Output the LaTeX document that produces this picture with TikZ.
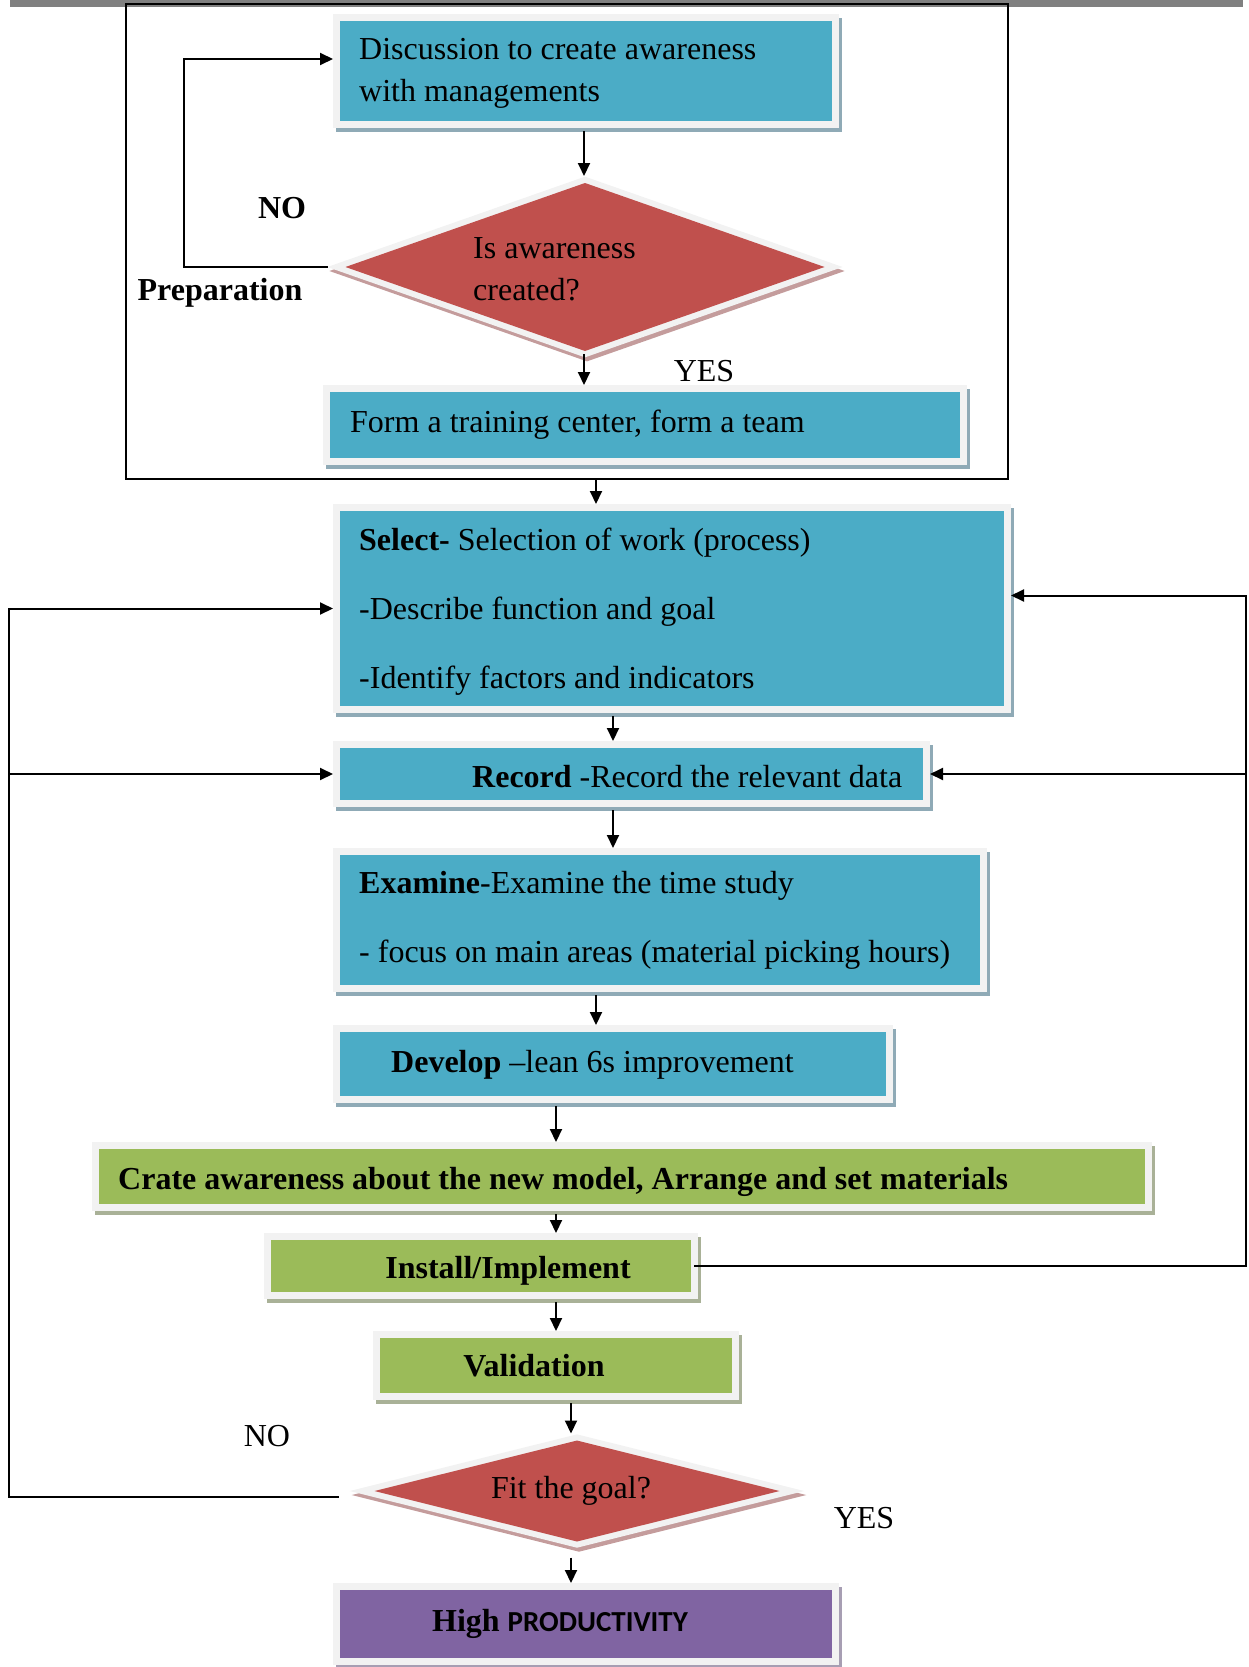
\documentclass[tikz,border=0pt]{standalone}
\usepackage{fontspec}
\setmainfont{Liberation Serif}
\newfontfamily\calib{Carlito}
\usetikzlibrary{arrows.meta,shapes.geometric,calc}

\definecolor{cblue}{HTML}{4BACC6}
\definecolor{cred}{HTML}{C0504D}
\definecolor{cgreen}{HTML}{9BBB59}
\definecolor{cpurple}{HTML}{8064A2}
\definecolor{rim}{HTML}{F2F2F2}
\definecolor{shblue}{HTML}{8FAAB6}
\definecolor{shgreen}{HTML}{A9B197}
\definecolor{shpurple}{HTML}{A79EB3}
\definecolor{shred}{HTML}{C49C9C}
\definecolor{topbar}{HTML}{808080}

\tikzset{
  boxbase/.style={rectangle, inner sep=0pt, outer sep=0pt, anchor=north west,
    preaction={draw=#1, line width=14pt, transform canvas={shift={(3pt,-4pt)}}},
    preaction={draw=rim, line width=14pt}},
  bluebox/.style={boxbase=shblue, fill=cblue},
  greenbox/.style={boxbase=shgreen, fill=cgreen},
  purplebox/.style={boxbase=shpurple, fill=cpurple},
  decision/.style={diamond, inner sep=0pt, outer sep=0pt, fill=cred,
    preaction={draw=shred, line width=12pt, line join=miter, transform canvas={shift={(2pt,-4pt)}}},
    preaction={draw=rim, line width=12pt, line join=miter}},
  txt/.style={inner sep=0pt, anchor=west, text height=22pt, text depth=1pt},
  ctxt/.style={inner sep=0pt, anchor=center, text height=22pt, text depth=1pt},
  conn/.style={line width=2pt},
  arr/.style={conn, -{Triangle[length=13pt,width=12pt]}},
}

\begin{document}
\begin{tikzpicture}[x=1pt,y=-1pt,font=\fontsize{32}{38}\selectfont]
\useasboundingbox (0,0) rectangle (1248,1667);

% rule across the top of the page
\fill[topbar] (10,0) rectangle (1243,7);

% preparation frame
\node[draw, line width=1.6pt, inner sep=0pt, outer sep=0pt, anchor=north west,
      minimum width=882pt, minimum height=475pt] (prep) at (126,4) {};

% boxes
\node[bluebox, minimum width=492pt, minimum height=100pt] (b1) at (340,21) {};
\node[decision, minimum width=479pt, minimum height=168pt] (d1) at (585,267) {};
\node[bluebox, minimum width=630pt, minimum height=66pt] (b3) at (330,392) {};
\node[bluebox, minimum width=664pt, minimum height=195pt] (b4) at (340,511) {};
\node[bluebox, minimum width=583pt, minimum height=52pt] (b5) at (340,748) {};
\node[bluebox, minimum width=640pt, minimum height=130pt] (b6) at (340,855) {};
\node[bluebox, minimum width=546pt, minimum height=64pt] (b7) at (340,1032) {};
\node[greenbox, minimum width=1046pt, minimum height=55pt] (b8) at (99,1149) {};
\node[greenbox, minimum width=420pt, minimum height=52pt] (b9) at (271,1240) {};
\node[greenbox, minimum width=352pt, minimum height=55pt] (b10) at (380,1338) {};
\node[decision, minimum width=405pt, minimum height=101pt] (d2) at (577,1491) {};
\node[purplebox, minimum width=492pt, minimum height=68pt] (b11) at (340,1590) {};

% texts
\node[txt] (t1a) at (359,49) {Discussion to create awareness};
\node[txt] (t1b) at (359,91) {with managements};
\node[txt] (t2a) at (473,248) {Is awareness};
\node[txt] (t2b) at (473,290) {created?};
\node[ctxt] (no1) at (282,208) {\bfseries NO};
\node[ctxt] (prepl) at (220,290) {\bfseries Preparation};
\node[ctxt] (yes1) at (704,371) {YES};
\node[txt] (t3) at (350,422) {Form a training center, form a team};
\node[txt] (t4a) at (359,540) {\textbf{Select-} Selection of work (process)};
\node[txt] (t4b) at (359,609) {-Describe function and goal};
\node[txt] (t4c) at (359,678) {-Identify factors and indicators};
\node[txt] (t5) at (472,777) {\textbf{Record} -Record the relevant data};
\node[txt] (t6a) at (359,883) {\textbf{Examine}-Examine the time study};
\node[txt] (t6b) at (359,952) {- focus on main areas (material picking hours)};
\node[txt] (t7) at (391,1062) {\textbf{Develop} --lean 6s improvement};
\node[txt] (t8) at (118,1179) {\bfseries Crate awareness about the new model, Arrange and set materials};
\node[ctxt] (t9) at (508,1268) {\bfseries Install/Implement};
\node[ctxt] (t10) at (534,1366) {\bfseries Validation};
\node[ctxt] (t11) at (571,1488) {Fit the goal?};
\node[ctxt] (no2) at (267,1436) {NO};
\node[ctxt] (yes2) at (864,1518) {YES};
\node[ctxt] (t12) at (560,1621) {\textbf{High} {\calib\bfseries\fontsize{29}{34}\selectfont PRODUCTIVITY}};

% columns used by the connectors
\coordinate (xa) at (584,0);
\coordinate (xb) at (596,0);
\coordinate (xc) at (613,0);
\coordinate (xd) at (556,0);
\coordinate (xe) at (571,0);
\coordinate (xl) at (184,0);
\coordinate (xL) at (8.5,0);
\coordinate (xR) at (1246,0);

% main flow
\draw[arr, shorten <=10pt, shorten >=7pt] (b1.south -| xa) -- (d1.north -| xa);
\draw[arr, shorten <=3pt, shorten >=7pt] (d1.south -| xa) -- (b3.north -| xa);
\draw[arr, shorten >=7pt] (prep.south -| xb) -- (b4.north -| xb);
\draw[arr, shorten <=10pt, shorten >=7pt] (b4.south -| xc) -- (b5.north -| xc);
\draw[arr, shorten <=10pt, shorten >=7pt] (b5.south -| xc) -- (b6.north -| xc);
\draw[arr, shorten <=10pt, shorten >=7pt] (b6.south -| xb) -- (b7.north -| xb);
\draw[arr, shorten <=10pt, shorten >=7pt] (b7.south -| xd) -- (b8.north -| xd);
\draw[arr, shorten <=10pt, shorten >=7pt] (b8.south -| xd) -- (b9.north -| xd);
\draw[arr, shorten <=10pt, shorten >=7pt] (b9.south -| xd) -- (b10.north -| xd);
\draw[arr, shorten <=10pt, shorten >=7pt] (b10.south -| xe) -- (d2.north -| xe);
\draw[arr, shorten <=16pt, shorten >=7pt] (d2.south -| xe) -- (b11.north -| xe);

% NO loop of the first decision
\draw[arr, shorten <=18pt, shorten >=7pt]
  (d1.west) -- (d1.west -| xl) -- ([yshift=12pt]b1.west -| xl) -- ([yshift=12pt]b1.west);

% NO loop of the second decision
\draw[arr, shorten <=36pt, shorten >=7pt]
  ([yshift=-6pt]d2.west) -- ([yshift=-6pt]d2.west -| xL) -- (b4.west -| xL) -- (b4.west);
\draw[arr, shorten >=7pt] (b5.west -| xL) -- (b5.west);

% feedback from the implementation
\draw[arr, shorten <=3pt, shorten >=7pt]
  (b9.east) -- (b9.east -| xR) -- ([yshift=13pt]b4.east -| xR) -- ([yshift=13pt]b4.east);
\draw[arr, shorten >=7pt] (b5.east -| xR) -- (b5.east);
\end{tikzpicture}
\end{document}
